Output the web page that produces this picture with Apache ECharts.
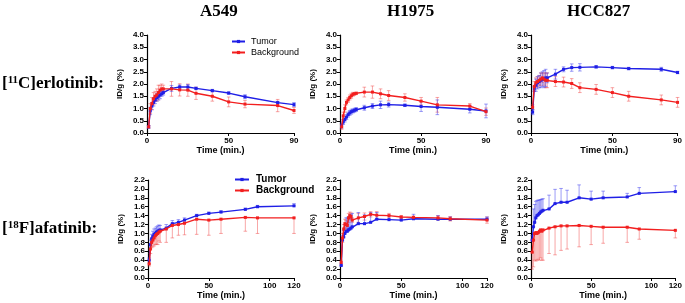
<!DOCTYPE html>
<html><head><meta charset="utf-8">
<script src="https://cdn.jsdelivr.net/npm/echarts@6/dist/echarts.min.js"></script>
<style>html,body{margin:0;padding:0;background:#fff}#c{width:685px;height:303px}</style>
</head><body><div id="c"></div>
<script>
// ---- Data ----
var columnTitles = ['A549', 'H1975', 'HCC827'];
var seriesNames = ['Tumor', 'Background'];
var timesErlotinib = [1,2,3,4,5,6,7,8,9,10,15,20,25,30,40,50,60,80,90];
var timesAfatinib = [1,2,3,4,5,6,7,8,9,10,15,20,25,30,40,50,60,80,90,120];
var xTicksErlotinib = [0, 50, 90];
var xTicksAfatinib = [0, 50, 100, 120];

// [11C]erlotinib, A549
var erlA549Tumor = [0.25,0.9,1.1,1.25,1.35,1.45,1.5,1.55,1.6,1.65,1.82,1.88,1.88,1.82,1.73,1.63,1.48,1.24,1.16];
var erlA549TumorErr = [0.05,0.15,0.15,0.15,0.15,0.15,0.15,0.15,0.1,0.1,0.12,0.08,0.1,0.05,0.05,0.05,0.08,0.05,0.08];
var erlA549Bg = [0.25,1.0,1.2,1.4,1.5,1.55,1.65,1.75,1.8,1.8,1.8,1.76,1.75,1.62,1.5,1.27,1.18,1.12,0.92];
var erlA549BgErr = [0.05,0.2,0.25,0.25,0.2,0.25,0.3,0.2,0.2,0.15,0.3,0.25,0.25,0.25,0.2,0.2,0.15,0.25,0.12];
// [11C]erlotinib, H1975
var erlH1975Tumor = [0.3,0.45,0.55,0.65,0.75,0.82,0.87,0.9,0.93,0.96,1.03,1.1,1.15,1.16,1.13,1.08,1.05,0.97,0.9];
var erlH1975TumorErr = [0.1,0.1,0.1,0.1,0.1,0.1,0.1,0.08,0.08,0.08,0.1,0.1,0.15,0.1,0.05,0.2,0.3,0.15,0.28];
var erlH1975Bg = [0.25,0.7,1.0,1.25,1.35,1.45,1.52,1.58,1.6,1.62,1.67,1.67,1.6,1.53,1.45,1.3,1.15,1.1,0.87];
var erlH1975BgErr = [0.1,0.15,0.15,0.1,0.1,0.1,0.1,0.08,0.05,0.05,0.2,0.25,0.2,0.2,0.15,0.15,0.3,0.1,0.15];
// [11C]erlotinib, HCC827
var erlHCC827Tumor = [0.85,1.8,1.95,2.05,2.1,2.15,2.2,2.2,2.25,2.25,2.4,2.6,2.67,2.68,2.7,2.67,2.63,2.6,2.47];
var erlHCC827TumorErr = [0.1,0.1,0.25,0.25,0.25,0.3,0.3,0.35,0.35,0.2,0.2,0.1,0.15,0.15,0.05,0.05,0.05,0.08,0.05];
var erlHCC827Bg = [1.05,1.9,2.05,2.1,2.15,2.2,2.25,2.2,2.15,2.15,2.1,2.08,2.02,1.85,1.78,1.65,1.5,1.35,1.25];
var erlHCC827BgErr = [0.1,0.2,0.2,0.2,0.2,0.25,0.2,0.25,0.3,0.3,0.2,0.2,0.2,0.2,0.2,0.2,0.2,0.2,0.2];
// [18F]afatinib, A549
var afaA549Tumor = [0.4,0.75,0.88,0.93,0.98,1.0,1.03,1.05,1.07,1.08,1.12,1.22,1.25,1.3,1.4,1.45,1.48,1.54,1.6,1.62];
var afaA549TumorErr = [0.05,0.1,0.1,0.12,0.12,0.12,0.12,0.12,0.12,0.1,0.08,0.07,0.06,0.05,0.03,0.03,0.03,0.03,0.03,0.05];
var afaA549Bg = [0.32,0.65,0.8,0.85,0.9,0.95,0.98,1.0,1.03,1.05,1.1,1.18,1.2,1.23,1.32,1.3,1.32,1.36,1.35,1.35];
var afaA549BgErr = [0.05,0.1,0.12,0.15,0.18,0.2,0.22,0.25,0.2,0.25,0.3,0.28,0.24,0.26,0.34,0.34,0.32,0.31,0.35,0.35];
// [18F]afatinib, H1975
var afaH1975Tumor = [0.28,0.85,0.92,1.0,1.05,1.05,1.08,1.1,1.12,1.15,1.22,1.22,1.25,1.32,1.31,1.3,1.33,1.32,1.32,1.32];
var afaH1975TumorErr = [0.05,0.1,0.15,0.2,0.3,0.3,0.3,0.25,0.3,0.3,0.25,0.2,0.22,0.15,0.1,0.05,0.1,0.08,0.05,0.05];
var afaH1975Bg = [0.35,0.9,1.1,1.22,1.2,1.18,1.35,1.4,1.38,1.3,1.35,1.38,1.43,1.41,1.4,1.37,1.36,1.35,1.33,1.3];
var afaH1975BgErr = [0.05,0.1,0.1,0.1,0.1,0.1,0.1,0.08,0.08,0.05,0.1,0.08,0.06,0.08,0.05,0.03,0.03,0.05,0.05,0.07];
// [18F]afatinib, HCC827
var afaHCC827Tumor = [0.85,1.15,1.25,1.35,1.4,1.42,1.45,1.48,1.5,1.52,1.55,1.67,1.7,1.7,1.8,1.77,1.8,1.82,1.9,1.94];
var afaHCC827TumorErr = [0.1,0.4,0.4,0.37,0.34,0.33,0.3,0.28,0.27,0.26,0.31,0.32,0.31,0.27,0.29,0.18,0.15,0.08,0.13,0.13];
var afaHCC827Bg = [0.58,0.85,1.0,1.02,1.0,1.02,1.05,1.08,1.05,1.08,1.12,1.15,1.17,1.17,1.18,1.16,1.14,1.14,1.1,1.07];
var afaHCC827BgErr = [0.38,0.6,0.6,0.64,0.6,0.6,0.65,0.63,0.65,0.68,0.57,0.63,0.55,0.52,0.48,0.41,0.36,0.34,0.23,0.17];

// ---- Layout / style ----
var BLUE = '#1f1fe6', RED = '#f21f1f';
var BLUE_ERR = 'rgba(60,60,240,0.5)', RED_ERR = 'rgba(240,60,60,0.45)';
var panels = [
  {l:147,t:35,w:147,h:98, times:timesErlotinib, xmax:90, xticks:xTicksErlotinib, ymax:4, yint:0.5,
   tu:erlA549Tumor, tuE:erlA549TumorErr, bg:erlA549Bg, bgE:erlA549BgErr, tuDir:'both', bgDir:'both'},
  {l:340,t:35,w:146,h:98, times:timesErlotinib, xmax:90, xticks:xTicksErlotinib, ymax:4, yint:0.5,
   tu:erlH1975Tumor, tuE:erlH1975TumorErr, bg:erlH1975Bg, bgE:erlH1975BgErr, tuDir:'both', bgDir:'both'},
  {l:531,t:35,w:147,h:98, times:timesErlotinib, xmax:90, xticks:xTicksErlotinib, ymax:4, yint:0.5,
   tu:erlHCC827Tumor, tuE:erlHCC827TumorErr, bg:erlHCC827Bg, bgE:erlHCC827BgErr, tuDir:'both', bgDir:'both'},
  {l:148,t:180,w:146,h:98, times:timesAfatinib, xmax:120, xticks:xTicksAfatinib, ymax:2.2, yint:0.2,
   tu:afaA549Tumor, tuE:afaA549TumorErr, bg:afaA549Bg, bgE:afaA549BgErr, tuDir:'up', bgDir:'down'},
  {l:340,t:180,w:147,h:98, times:timesAfatinib, xmax:120, xticks:xTicksAfatinib, ymax:2.2, yint:0.2,
   tu:afaH1975Tumor, tuE:afaH1975TumorErr, bg:afaH1975Bg, bgE:afaH1975BgErr, tuDir:'up', bgDir:'both'},
  {l:531,t:180,w:147,h:98, times:timesAfatinib, xmax:120, xticks:xTicksAfatinib, ymax:2.2, yint:0.2,
   tu:afaHCC827Tumor, tuE:afaHCC827TumorErr, bg:afaHCC827Bg, bgE:afaHCC827BgErr, tuDir:'up', bgDir:'down'}
];

var AXFONT = {fontFamily:'Liberation Sans, Arial, sans-serif', fontWeight:'bold', fontSize:8, color:'#000'};
var grids = [], xAxes = [], yAxes = [], series = [];

function errData(times, mean, err, dir) {
  return times.map(function (t, i) {
    var lo = dir === 'up' ? mean[i] : mean[i] - err[i];
    var hi = dir === 'down' ? mean[i] : mean[i] + err[i];
    return [t, mean[i], lo, hi];
  });
}
function renderErr(color) {
  return function (params, api) {
    var x = api.value(0);
    var pl = api.coord([x, api.value(2)]);
    var ph = api.coord([x, api.value(3)]);
    var cw = 1.8;
    var st = {stroke: color, lineWidth: 1};
    return {type:'group', children:[
      {type:'line', shape:{x1:pl[0], y1:pl[1], x2:ph[0], y2:ph[1]}, style:st},
      {type:'line', shape:{x1:pl[0]-cw, y1:pl[1], x2:pl[0]+cw, y2:pl[1]}, style:st},
      {type:'line', shape:{x1:ph[0]-cw, y1:ph[1], x2:ph[0]+cw, y2:ph[1]}, style:st}
    ]};
  };
}

panels.forEach(function (p, k) {
  grids.push({left:p.l, top:p.t, width:p.w, height:p.h, containLabel:false});
  xAxes.push({type:'value', gridIndex:k, min:0, max:p.xmax,
    name:'Time (min.)', nameLocation:'middle', nameGap:13,
    nameTextStyle:{fontFamily:'Liberation Sans, Arial, sans-serif', fontWeight:'bold', fontSize:9, color:'#000'},
    axisLine:{onZero:false, lineStyle:{color:'#000', width:1.2}},
    axisTick:{show:true, length:3, customValues:p.xticks, lineStyle:{color:'#000', width:1}},
    axisLabel:Object.assign({customValues:p.xticks, margin:4}, AXFONT),
    splitLine:{show:false}});
  yAxes.push({type:'value', gridIndex:k, min:0, max:p.ymax, interval:p.yint,
    name:'ID/g (%)', nameLocation:'middle', nameGap:23, nameRotate:90,
    nameTextStyle:{fontFamily:'Liberation Sans, Arial, sans-serif', fontWeight:'bold', fontSize:8, color:'#000'},
    axisLine:{show:true, lineStyle:{color:'#000', width:1.2}},
    axisTick:{show:true, length:3, lineStyle:{color:'#000', width:1}},
    axisLabel:Object.assign({margin:3, formatter:function(v){return v.toFixed(1);}}, AXFONT),
    splitLine:{show:false}});
  series.push({type:'custom', xAxisIndex:k, yAxisIndex:k, silent:true, z:1,
    renderItem:renderErr(RED_ERR), data:errData(p.times, p.bg, p.bgE, p.bgDir)});
  series.push({type:'custom', xAxisIndex:k, yAxisIndex:k, silent:true, z:1,
    renderItem:renderErr(BLUE_ERR), data:errData(p.times, p.tu, p.tuE, p.tuDir)});
  series.push({type:'line', name:seriesNames[0], xAxisIndex:k, yAxisIndex:k, z:3,
    data:p.times.map(function(t,i){return [t,p.tu[i]];}),
    symbol:'rect', symbolSize:3, showSymbol:true,
    lineStyle:{color:BLUE, width:1.4}, itemStyle:{color:BLUE}});
  series.push({type:'line', name:seriesNames[1], xAxisIndex:k, yAxisIndex:k, z:4,
    data:p.times.map(function(t,i){return [t,p.bg[i]];}),
    symbol:'rect', symbolSize:3, showSymbol:true,
    lineStyle:{color:RED, width:1.4}, itemStyle:{color:RED}});
});

var TITLEFONT = 'Liberation Serif, Times New Roman, serif';
var chart = echarts.init(document.getElementById('c'), null, {renderer:'canvas'});
chart.setOption({
  animation:false,
  backgroundColor:'#fff',
  grid:grids, xAxis:xAxes, yAxis:yAxes, series:series,
  legend:[
    {left:231, top:36, orient:'vertical', itemWidth:13, itemHeight:4, itemGap:0, padding:0,
     data:seriesNames, selectedMode:false,
     textStyle:{fontFamily:'Liberation Sans, Arial, sans-serif', fontSize:9, lineHeight:11, color:'#000', padding:[0,0,0,1]}},
    {left:234, top:174, orient:'vertical', itemWidth:14, itemHeight:4, itemGap:0, padding:0,
     data:seriesNames, selectedMode:false,
     textStyle:{fontFamily:'Liberation Sans, Arial, sans-serif', fontSize:10, lineHeight:11, fontWeight:'bold', color:'#000', padding:[0,0,0,2]}}
  ],
  graphic:[
    {type:'text', left:200, top:3, style:{text:columnTitles[0], font:'bold 17px ' + TITLEFONT, fill:'#000'}},
    {type:'text', left:387, top:3, style:{text:columnTitles[1], font:'bold 17px ' + TITLEFONT, fill:'#000'}},
    {type:'text', left:567, top:3, style:{text:columnTitles[2], font:'bold 17px ' + TITLEFONT, fill:'#000'}},
    {type:'text', left:2, top:75, style:{text:'[{s|11}C]erlotinib:', font:'bold 17px ' + TITLEFONT, fill:'#000',
      rich:{s:{fontSize:11, fontWeight:'bold', fontFamily:TITLEFONT, verticalAlign:'top', padding:[0,0,6,0]}}}},
    {type:'text', left:2, top:220, style:{text:'[{s|18}F]afatinib:', font:'bold 17px ' + TITLEFONT, fill:'#000',
      rich:{s:{fontSize:11, fontWeight:'bold', fontFamily:TITLEFONT, verticalAlign:'top', padding:[0,0,6,0]}}}}
  ]
});
</script></body></html>
